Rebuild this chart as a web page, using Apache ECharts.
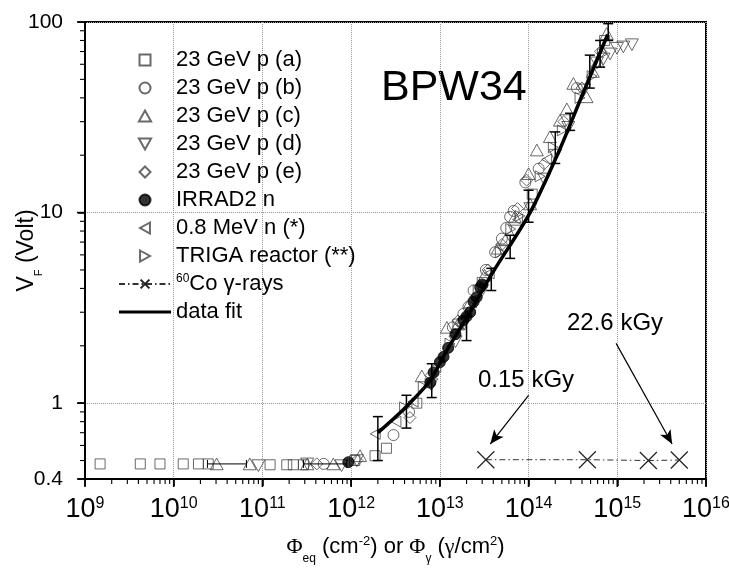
<!DOCTYPE html>
<html><head><meta charset="utf-8">
<script src="https://cdn.jsdelivr.net/npm/echarts@6/dist/echarts.min.js"></script>
<style>html,body{margin:0;padding:0;background:#fff}#c{width:729px;height:568px}</style>
</head><body><div id="c"></div>
<script>
// ---- series names ----
const seriesNames = ['23 GeV p (a)','23 GeV p (b)','23 GeV p (c)','23 GeV p (d)','23 GeV p (e)','IRRAD2 n','0.8 MeV n (*)','TRIGA reactor (**)','{sup|60}Co γ-rays','data fit'];

// ---- data: [fluence, V_F] ----
const pA = [[1.48e9,0.48],[4.2e9,0.48],[7e9,0.48],[1.28e10,0.48],[1.9e10,0.48],[2.45e10,0.48],[1.22e11,0.475],[1.88e11,0.475],[2.23e11,0.475],[2.9e11,0.475],[1.1e12,0.5],[1.86e12,0.53],[2.5e12,0.58],[5.5e12,1.0],[1.6e13,2.6],[3e13,4.3],[1.1e14,12.5],[7.2e14,80]];
const pB = [[4.9e11,0.48],[3e12,0.68],[4.5e12,0.9],[1.4e13,2.5],[1.84e13,2.94],[2.1e13,3.2],[2.4e13,3.9],[3.3e13,5.0],[4.2e13,6.2],[5e13,7.3],[5.6e13,8.3],[6.2e13,9.5],[6.8e13,10.2],[9.2e13,14.4],[1.3e14,17],[3.5e14,45]];
const pC = [[3.05e10,0.48],[7.2e10,0.48],[3.2e11,0.48],[6.3e11,0.48],[1.26e12,0.53],[6.26e12,1.39],[1.2e13,2.5],[1.6e13,2.6],[2.2e13,3.4],[3.2e13,4.7],[4.5e13,6.5],[5.5e13,7.2],[7e13,9.5],[1.04e14,11.1],[1e14,16],[1.24e14,21.3],[1.74e14,25],[2.26e14,30.5],[2.7e14,35],[3.2e14,47.6],[4.5e14,40.5],[5.3e14,55],[6e14,62],[7.6e14,87]];
const pD = [[9e10,0.47],[3.2e11,0.48],[7.8e11,0.47],[1.16e12,0.5],[8e12,1.25],[1.5e13,2.1],[3e13,3.9],[5.2e13,6.3],[7e13,8],[1.05e14,10.5],[1.5e14,15],[2e14,20],[2.8e14,28],[4.2e14,44],[5.9e14,61],[7e14,64],[8.3e14,68],[9.9e14,72.8],[1.17e15,74],[1.46e15,76]];
const pE = [[4.1e11,0.48],[1.16e12,0.5],[4.6e12,0.84],[8e12,1.4],[1.6e13,2.7],[3.5e13,5],[5e13,6.8],[7.5e13,10.5],[9.5e13,14.8],[1.5e14,18],[2.5e14,30],[4e14,45],[6.5e14,70]];
const pIrrad = [[9.3e11,0.49],[7.8e12,1.28],[8.5e12,1.45],[1e13,1.64],[1.1e13,1.75],[1.24e13,1.95],[1.5e13,2.3],[1.84e13,2.72],[2e13,2.85],[2.2e13,3.0],[2.4e13,3.4],[2.6e13,3.6],[2.85e13,4.05],[3e13,4.2]];
const pMeV = [[1.87e12,0.69],[3.2e12,0.8],[5e12,1.02],[9e12,1.55],[1.7e13,2.6],[3.6e13,4.8],[7.5e13,9.2],[1.6e14,19]];
const pTriga = [[4e12,0.95],[6.5e12,1.22],[1.3e13,2.05],[2.7e13,3.9],[4.8e13,6.2],[6.3e13,8.2],[8e13,9.6],[1.35e14,15.5],[1.9e14,22],[2.4e14,27],[3.8e14,40],[5.2e14,52],[6.8e14,68]];
const pCo = [[3.3e13,0.505],[4.6e14,0.505],[2.24e15,0.5],[5e15,0.503]];
const fitLine = [[2.0e12,0.70],[4.1e12,0.95],[7.8e12,1.32],[1.2e13,1.9],[2e13,2.8],[4e13,4.9],[1.04e14,10],[2.2e14,21],[4e14,41],[7.8e14,86]];
// vertical error bars: [fluence, low, high]
const errV = [[2e12,0.5,0.85],[4.2e12,0.74,1.1],[8.1e12,1.07,1.61],[2e13,2.13,2.83],[3.8e13,3.9,5.1],[6.2e13,5.75,7.6],[1e14,8.9,13.1],[2e14,18.1,26.5],[2.94e14,27,33.2],[4.9e14,45,67],[6.4e14,58,80],[7.9e14,80,98]];
// horizontal error bars: [fluence, V, low, high]
const errH = [[3.2e10,0.48,2.4e10,6.6e10],[4.9e11,0.48,2.9e11,8.9e11]];
// annotation arrows: [[from],[to]]
const arrows = [[[1e14,1.1],[3.7e13,0.61]],[[9.7e14,2.06],[4.15e15,0.61]]];
const annotations = ['BPW34','0.15 kGy','22.6 kGy'];
// ---- axis ticks ----
const xMin = 1e9, xMax = 1e16, yMin = 0.4, yMax = 100;
const yTickLabels = {0.4:'0.4',1:'1',10:'10',100:'100'};
const xMajorTicks = [1e9,1e10,1e11,1e12,1e13,1e14,1e15,1e16];
const xMinorMult = [2,3,4,5,6,7,8,9];
const yMajorTicks = [0.4,1,10,100];
const yMinorTicks = [0.5,0.6,0.7,0.8,0.9,2,3,4,5,6,7,8,9,20,30,40,50,60,70,80,90];

const xMinorTicks = [];
xMajorTicks.slice(0,-1).forEach(d=>xMinorMult.forEach(k=>xMinorTicks.push(d*k)));

const FONT = 'Liberation Sans, Arial, sans-serif';
const SERIF = 'Liberation Serif, Times New Roman, serif';
const edge = '#444';
const hollow = {color:'rgba(255,255,255,0)', borderColor:edge, borderWidth:1};

function scatter(name, data, symbol, size, style){
  return {type:'scatter', name, data, symbol, symbolSize:size, symbolKeepAspect:true, itemStyle:style||hollow, z:3};
}
// tick marks drawn as small filled bars, placed through the axes' scales
function tickBars(name, values, isX, len, w){
  const data = values.map(v => isX ? [v, yMin] : [xMin, v]);
  return {type:'scatter', name, data, symbol:'rect', symbolKeepAspect:false,
    symbolSize: isX ? [w, len] : [len, w],
    symbolOffset: isX ? [0, len/2] : [-len/2, 0],
    itemStyle:{color:'#000', borderWidth:0, opacity:1}, clip:false, silent:true, z:50,
    emphasis:{disabled:true}, tooltip:{show:false}};
}

const chart = echarts.init(document.getElementById('c'), null, {renderer:'canvas'});
chart.setOption({
  animation:false,
  backgroundColor:'#fff',
  grid:{left:85, right:23, top:22, bottom:89, containLabel:false, outerBoundsMode:'none', show:true, borderColor:'#000', borderWidth:2, backgroundColor:'transparent'},
  legend:{
    orient:'vertical', left:113, top:44, itemWidth:52, itemHeight:11, itemGap:6,
    symbolKeepAspect:true,
    textStyle:{fontSize:22, fontFamily:FONT, color:'#000', lineHeight:22, rich:{sup:{fontSize:12, verticalAlign:'top', fontFamily:FONT, lineHeight:22}}},
    data:seriesNames.slice(0,9).concat([{name:seriesNames[9], icon:'path://M0,0L52,0L52,3.2L0,3.2Z'}])
  },
  xAxis:{
    type:'log', logBase:10, min:xMin, max:xMax,
    axisLine:{show:true, onZero:false, lineStyle:{color:'#000', width:2}},
    axisTick:{show:true, inside:false, length:7, lineStyle:{color:'#000', width:1.5}},
    minorTick:{show:false},
    splitLine:{show:true, lineStyle:{color:'#999', type:'dotted', width:1}},
    axisLabel:{margin:17, formatter:function(v){return '{b|10}{s|'+Math.round(Math.log10(v))+'}';},
      rich:{b:{fontSize:27, fontFamily:FONT, color:'#000', lineHeight:28}, s:{fontSize:16, fontFamily:FONT, color:'#000', verticalAlign:'top', lineHeight:16}}},
    name:'{p|Φ}{sub|eq}{n| (cm}{sup|-2}{n|) or }{p|Φ}{sub|γ}{n| (}{g|γ}{n|/cm}{sup|2}{n|)}',
    nameLocation:'middle', nameGap:56, nameMoveOverlap:false,
    nameTextStyle:{rich:{
      n:{fontSize:22, fontFamily:FONT, color:'#000', lineHeight:24},
      p:{fontSize:22, fontFamily:SERIF, color:'#000', lineHeight:24},
      g:{fontSize:22, fontFamily:SERIF, color:'#000', lineHeight:24},
      sub:{fontSize:12, fontFamily:FONT, color:'#000', verticalAlign:'bottom', lineHeight:12, padding:[0,0,-6,0]},
      sup:{fontSize:13, fontFamily:FONT, color:'#000', verticalAlign:'top', lineHeight:13}
    }}
  },
  yAxis:{
    type:'log', logBase:10, min:yMin, max:yMax,
    axisLine:{show:true, onZero:false, lineStyle:{color:'#000', width:2}},
    axisTick:{show:true, inside:false, length:7, lineStyle:{color:'#000', width:1.5}},
    minorTick:{show:false},
    splitLine:{show:true, lineStyle:{color:'#999', type:'dotted', width:1}},
    axisLabel:{margin:22, fontSize:21, fontFamily:FONT, color:'#000', formatter:function(v){
      const keys=Object.keys(yTickLabels).map(Number); let best=keys[0];
      keys.forEach(k=>{if(Math.abs(Math.log10(k)-Math.log10(v))<Math.abs(Math.log10(best)-Math.log10(v))) best=k;});
      return yTickLabels[best];}},
    name:'{n|V}{sub|F}{n| (Volt)}', nameLocation:'middle', nameGap:46, nameRotate:90, nameMoveOverlap:false,
    nameTextStyle:{rich:{
      n:{fontSize:23, fontFamily:FONT, color:'#000', lineHeight:24},
      sub:{fontSize:11, fontFamily:FONT, color:'#000', verticalAlign:'bottom', lineHeight:11, padding:[0,0,-5,0]}
    }}
  },
  graphic:[
    {type:'text', x:381, y:88, style:{text:annotations[0], fontSize:43, fontFamily:FONT, fill:'#000', verticalAlign:'middle'}},
    {type:'text', x:478, y:380, style:{text:annotations[1], fontSize:24, fontFamily:FONT, fill:'#000', verticalAlign:'middle'}},
    {type:'text', x:567, y:323, style:{text:annotations[2], fontSize:24, fontFamily:FONT, fill:'#000', verticalAlign:'middle'}}
  ],
  series:[
    tickBars('xMajorTicks', xMajorTicks, true, 8, 1.6),
    tickBars('xMinorTicks', xMinorTicks, true, 5, 1.1),
    tickBars('yMajorTicks', yMajorTicks, false, 8, 1.6),
    tickBars('yMinorTicks', yMinorTicks, false, 5, 1.1),
    {type:'custom', name:'errV', data:errV, encode:{x:0, y:[1,2]}, z:4, silent:true,
      renderItem:function(params, api){
        const x=api.value(0), p1=api.coord([x,api.value(1)]), p2=api.coord([x,api.value(2)]), w=5;
        const st={stroke:'#000', lineWidth:1.5};
        return {type:'group', children:[
          {type:'line', shape:{x1:p1[0],y1:p1[1],x2:p2[0],y2:p2[1]}, style:st},
          {type:'line', shape:{x1:p1[0]-w,y1:p1[1],x2:p1[0]+w,y2:p1[1]}, style:st},
          {type:'line', shape:{x1:p2[0]-w,y1:p2[1],x2:p2[0]+w,y2:p2[1]}, style:st}]};
      }},
    {type:'custom', name:'errH', data:errH, encode:{x:[0,2,3], y:1}, z:4, silent:true,
      renderItem:function(params, api){
        const y=api.value(1), p1=api.coord([api.value(2),y]), p2=api.coord([api.value(3),y]), h=4;
        const st={stroke:'#000', lineWidth:1};
        return {type:'group', children:[
          {type:'line', shape:{x1:p1[0],y1:p1[1],x2:p2[0],y2:p2[1]}, style:st},
          {type:'line', shape:{x1:p1[0],y1:p1[1]-h,x2:p1[0],y2:p1[1]+h}, style:st},
          {type:'line', shape:{x1:p2[0],y1:p2[1]-h,x2:p2[0],y2:p2[1]+h}, style:st}]};
      }},
    scatter(seriesNames[0], pA, 'path://M0,0L10,0L10,10L0,10Z', 10),
    scatter(seriesNames[1], pB, 'circle', 11),
    scatter(seriesNames[2], pC, 'path://M5,0L10,9L0,9Z', 13),
    scatter(seriesNames[3], pD, 'path://M0,0L10,0L5,9Z', 13),
    scatter(seriesNames[4], pE, 'path://M5,0L10,5L5,10L0,5Z', 12),
    scatter(seriesNames[5], pIrrad, 'circle', 11, {color:'#000', borderColor:'#000', borderWidth:1}),
    scatter(seriesNames[6], pMeV, 'path://M9,0L0,5L9,10Z', 11),
    scatter(seriesNames[7], pTriga, 'path://M0,0L9,5L0,10Z', 11),
    {type:'line', name:seriesNames[8], data:pCo, symbol:'path://M0,0L10,10M10,0L0,10', symbolSize:17, showSymbol:true,
      itemStyle:{color:'rgba(255,255,255,0)', borderColor:'#222', borderWidth:1.2},
      lineStyle:{color:'#333', width:1, type:[6,3,1.5,3]}, z:3,
      markLine:{silent:true, symbol:['none','arrow'], symbolSize:[9,14], label:{show:false},
        lineStyle:{color:'#000', type:'solid', width:1.2},
        data:arrows.map(a=>[{coord:a[0]},{coord:a[1]}])}},
    {type:'line', name:seriesNames[9], data:fitLine, symbol:'none', smooth:0.3, color:'#000', lineStyle:{color:'#000', width:3.5}, z:5}
  ]
});
</script></body></html>
